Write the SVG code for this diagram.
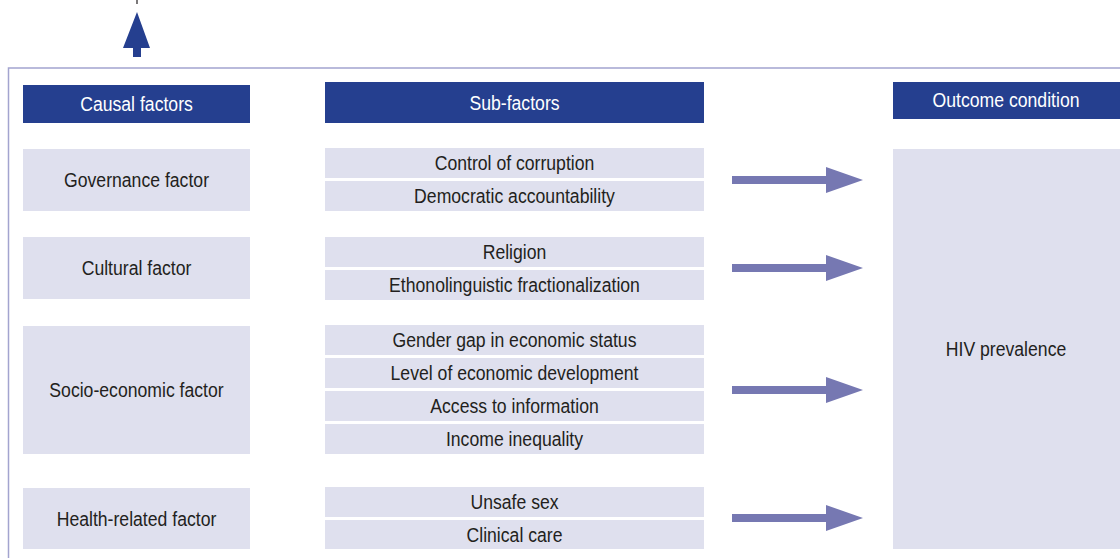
<svg xmlns="http://www.w3.org/2000/svg" width="1120" height="558" viewBox="0 0 1120 558">
<style>
.hdr{fill:#253f8f}
.box{fill:#dfe0ee}
.ht{fill:#ffffff;font-family:"Liberation Sans",Arial,sans-serif;font-size:21px;text-anchor:middle}
.bt{fill:#231f20;font-family:"Liberation Sans",Arial,sans-serif;font-size:21px;text-anchor:middle}
.arr{fill:#7678b2}
</style>
<rect width="1120" height="558" fill="#ffffff"/>
<g id="frame">
<path d="M1120 68 H8.5 V558" fill="none" stroke="#a3a4cf" stroke-width="1.5"/>
</g>
<g id="up-arrow">
<line x1="137" y1="0" x2="137" y2="4" stroke="#231f20" stroke-width="1.2"/>
<polygon points="137,12 150,48 141,48 141,57 133,57 133,48 123,48" fill="#253f8f"/>
</g>
<g id="causal-header"><rect class="hdr" x="23" y="85" width="227" height="38"/><text class="ht" transform="translate(136.5,111) scale(0.84,1)">Causal factors</text></g>
<g id="sub-header"><rect class="hdr" x="325" y="82" width="379" height="41"/><text class="ht" transform="translate(514.5,110) scale(0.84,1)">Sub-factors</text></g>
<g id="outcome-header"><rect class="hdr" x="893" y="82" width="227" height="37"/><text class="ht" transform="translate(1006,107) scale(0.84,1)">Outcome condition</text></g>

<g id="governance"><rect class="box" x="23" y="149" width="227" height="62"/><text class="bt" transform="translate(136.5,187) scale(0.84,1)">Governance factor</text></g>
<g id="cultural"><rect class="box" x="23" y="237" width="227" height="62"/><text class="bt" transform="translate(136.5,275) scale(0.84,1)">Cultural factor</text></g>
<g id="socio-economic"><rect class="box" x="23" y="326" width="227" height="128"/><text class="bt" transform="translate(136.5,397) scale(0.84,1)">Socio-economic factor</text></g>
<g id="health"><rect class="box" x="23" y="488" width="227" height="61"/><text class="bt" transform="translate(136.5,526) scale(0.84,1)">Health-related factor</text></g>

<g id="sub-corruption"><rect class="box" x="325" y="148" width="379" height="30"/><text class="bt" transform="translate(514.5,170) scale(0.84,1)">Control of corruption</text></g>
<g id="sub-democratic"><rect class="box" x="325" y="181" width="379" height="30"/><text class="bt" transform="translate(514.5,203) scale(0.84,1)">Democratic accountability</text></g>
<g id="sub-religion"><rect class="box" x="325" y="237" width="379" height="30"/><text class="bt" transform="translate(514.5,259) scale(0.84,1)">Religion</text></g>
<g id="sub-ethno"><rect class="box" x="325" y="270" width="379" height="30"/><text class="bt" transform="translate(514.5,292) scale(0.84,1)">Ethonolinguistic fractionalization</text></g>
<g id="sub-gender"><rect class="box" x="325" y="325" width="379" height="30"/><text class="bt" transform="translate(514.5,347) scale(0.84,1)">Gender gap in economic status</text></g>
<g id="sub-level"><rect class="box" x="325" y="358" width="379" height="30"/><text class="bt" transform="translate(514.5,380) scale(0.84,1)">Level of economic development</text></g>
<g id="sub-access"><rect class="box" x="325" y="391" width="379" height="30"/><text class="bt" transform="translate(514.5,413) scale(0.84,1)">Access to information</text></g>
<g id="sub-income"><rect class="box" x="325" y="424" width="379" height="30"/><text class="bt" transform="translate(514.5,446) scale(0.84,1)">Income inequality</text></g>
<g id="sub-unsafe"><rect class="box" x="325" y="487" width="379" height="30"/><text class="bt" transform="translate(514.5,509) scale(0.84,1)">Unsafe sex</text></g>
<g id="sub-clinical"><rect class="box" x="325" y="520" width="379" height="29"/><text class="bt" transform="translate(514.5,542) scale(0.84,1)">Clinical care</text></g>

<g id="outcome"><rect class="box" x="893" y="149" width="227" height="400"/><text class="bt" transform="translate(1006,356) scale(0.84,1)">HIV prevalence</text></g>

<g id="connectors">
<polygon class="arr" points="732,176 826,176 826,167 863,180 826,193 826,184 732,184"/>
<polygon class="arr" points="732,264 826,264 826,255 863,268 826,281 826,272 732,272"/>
<polygon class="arr" points="732,386 826,386 826,377 863,390 826,403 826,394 732,394"/>
<polygon class="arr" points="732,514 826,514 826,505 863,518 826,531 826,522 732,522"/>
</g>
</svg>
